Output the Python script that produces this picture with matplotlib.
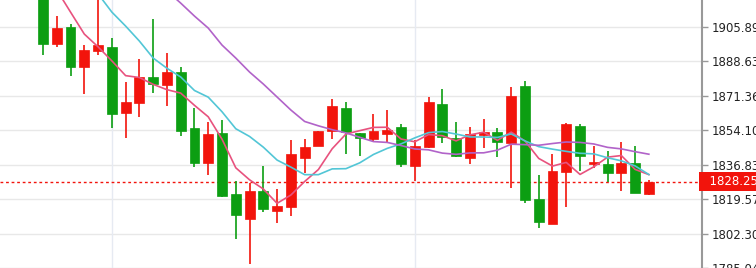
import matplotlib
matplotlib.use("Agg")
import matplotlib.pyplot as plt
import numpy as np
import pandas as pd

### candle data (oldest first)
opens = [1924.3, 1897.4, 1905.6, 1885.6, 1893.9, 1895.6, 1862.6, 1867.6, 1880.9, 1876.7,
         1883.1, 1855.0, 1837.8, 1852.5, 1822.0, 1809.5, 1823.8, 1813.8, 1815.5, 1840.0,
         1846.2, 1853.8, 1865.4, 1852.5, 1849.7, 1852.2, 1855.8, 1836.3, 1845.8, 1867.2,
         1850.0, 1840.0, 1851.7, 1853.0, 1847.5, 1876.2, 1819.5, 1807.2, 1833.0, 1856.3,
         1837.0, 1837.0, 1832.5, 1837.8, 1822.2]
highs = [1929.3, 1911.2, 1907.1, 1896.7, 1924.3, 1900.1, 1878.4, 1889.7, 1909.7, 1892.6,
         1885.9, 1865.4, 1858.0, 1859.2, 1828.7, 1827.5, 1836.3, 1824.7, 1849.2, 1849.5,
         1853.8, 1869.7, 1868.1, 1852.8, 1862.0, 1864.2, 1857.2, 1849.2, 1870.9, 1874.6,
         1858.0, 1855.6, 1859.7, 1855.0, 1875.9, 1878.9, 1831.7, 1842.0, 1857.5, 1857.2,
         1846.3, 1843.7, 1848.0, 1846.3, 1829.2]
lows = [1891.7, 1895.6, 1881.4, 1872.2, 1891.7, 1855.0, 1850.3, 1860.9, 1872.6, 1866.2,
        1851.3, 1835.8, 1831.7, 1820.8, 1799.5, 1787.0, 1813.3, 1807.8, 1811.3, 1832.5,
        1846.2, 1849.7, 1842.2, 1841.2, 1848.8, 1848.3, 1835.5, 1828.7, 1845.0, 1847.5,
        1840.8, 1837.0, 1845.0, 1840.5, 1825.3, 1817.8, 1805.3, 1807.2, 1815.5, 1833.8,
        1835.0, 1828.3, 1823.7, 1822.5, 1821.7]
closes = [1897.4, 1905.1, 1885.6, 1894.2, 1896.7, 1862.4, 1868.1, 1880.9, 1877.1, 1883.4,
          1853.8, 1837.5, 1852.2, 1821.2, 1811.7, 1823.8, 1814.5, 1816.3, 1842.0, 1845.5,
          1853.8, 1866.4, 1853.3, 1850.3, 1853.7, 1854.2, 1837.0, 1846.3, 1868.4, 1850.8,
          1841.3, 1852.0, 1853.0, 1848.0, 1871.4, 1819.2, 1808.3, 1833.8, 1857.2, 1841.3,
          1838.3, 1832.5, 1837.8, 1822.5, 1828.25]

### moving average values before enough candles are on screen
ma5_head = [1934.3, 1924.3, 1913.2, 1902.2]
ma10_head = [1956.8, 1948.3, 1940.3, 1930.8, 1922.3, 1913.2, 1906.2, 1898.7, 1890.2]
ma20_head = [1977.3, 1971.3, 1965.3, 1959.3, 1953.3, 1947.3, 1941.3, 1935.3, 1929.3, 1923.8,
             1917.7, 1911.2, 1905.2, 1896.7, 1890.2, 1883.2, 1877.2, 1870.7, 1864.2]

tick_labels = ['1785.04', '1802.30', '1819.57', '1836.83', '1854.10', '1871.36', '1888.63', '1905.89']
last_price = 1828.25
vgrid_idx = [5, 27]

RED = '#f2140c'
GREEN = '#0c9e12'

df = pd.DataFrame({'open': opens, 'high': highs, 'low': lows, 'close': closes})
x = np.arange(len(df))

def moving_avg(n, head):
    ma = df['close'].rolling(n).mean()
    ma.iloc[:len(head)] = head
    return ma

ma5 = moving_avg(5, ma5_head)
ma10 = moving_avg(10, ma10_head)
ma20 = moving_avg(20, ma20_head)

fig = plt.figure(figsize=(7.56, 2.68), dpi=100)
ax = fig.add_axes([0, -5 / 268, 702 / 756, 273 / 268])

### grid
tick_vals = [float(t) for t in tick_labels]
for t in tick_vals:
    ax.axhline(t, color='#e8e8e8', lw=1, zorder=0)
for i in vgrid_idx:
    ax.axvline(i, color='#e6eaf2', lw=1, zorder=0)

### candles
up = df['close'] >= df['open']
colors = np.where(up, RED, GREEN)
ax.vlines(x, df['low'], df['high'], colors=colors, lw=1.2, zorder=2)
body = (df['close'] - df['open']).abs().clip(lower=0.6)
bottom = df[['open', 'close']].min(axis=1)
ax.bar(x, body, bottom=bottom, width=0.72, color=colors, edgecolor=colors, lw=0.5, zorder=3)

### moving averages
ax.plot(x, ma5, color='#e8527e', lw=1.2, zorder=4)
ax.plot(x, ma10, color='#52c6d6', lw=1.2, zorder=4)
ax.plot(x, ma20, color='#b163c9', lw=1.2, zorder=4)

### last price line + label
ax.axhline(last_price, color=RED, lw=1, ls=(0, (2, 2)), zorder=1)
ax.text(1.0, last_price, '  ' + f'{last_price:.2f}' + '   ', transform=ax.get_yaxis_transform(),
        ha='left', va='center', color='white', fontsize=8.5,
        bbox=dict(boxstyle='square,pad=0.25', fc=RED, ec='none'), clip_on=False, zorder=10)

ax.set_xlim(-43 / 13.77, (702 - 43) / 13.77)
ax.set_ylim(1919.25 - 0.5004 * 273, 1919.25)

ax.yaxis.tick_right()
ax.set_yticks(tick_vals)
ax.set_yticklabels(tick_labels, fontsize=8.5, color='#222222')
ax.tick_params(axis='y', length=4, width=1, color='#999999', pad=3)
ax.set_xticks([])
for s in ['top', 'left', 'bottom']:
    ax.spines[s].set_visible(False)
ax.spines['right'].set_color('#999999')
ax.spines['right'].set_linewidth(1.5)

fig.savefig('out.png', dpi=100)
